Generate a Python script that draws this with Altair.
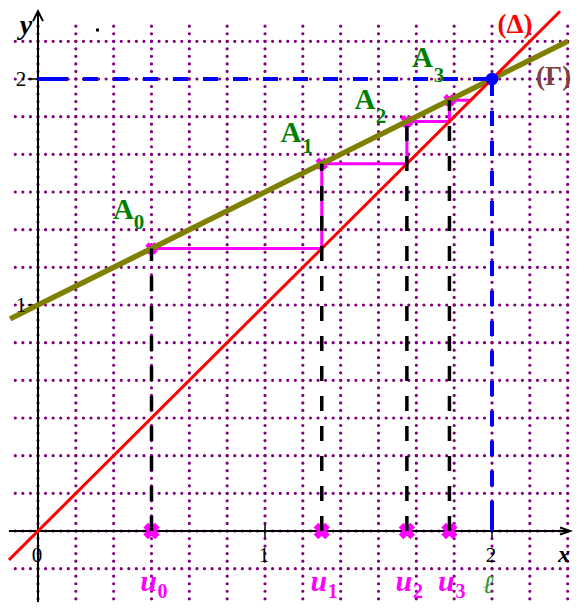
import altair as alt
import pandas as pd

# ---- values ----
u_vals = [0.5, 1.25, 1.625, 1.8125]            # u0..u3 on the x axis
a_vals = [1.25, 1.625, 1.8125, 1.90625]        # ordinates of A0..A3 on (Γ)
sub_labels = ["0", "1", "2", "3"]
limit_val = 2.0
gamma_x = [-0.123, 2.335]
gamma_y = [0.9385, 2.1675]
delta_x = [-0.128, 2.30]
delta_y = [-0.128, 2.30]
cobweb_x = [0.5, 1.25, 1.25, 1.625, 1.625, 1.8125, 1.8125, 1.90625]
cobweb_y = [1.25, 1.25, 1.625, 1.625, 1.8125, 1.8125, 1.90625, 1.90625]
grid_v = [k / 6 for k in range(0, 15)]
grid_h = [k / 6 for k in range(-2, 14)]
x_ticks = [0, 1, 2]
y_ticks = [1, 2]

W, H = 565, 594
xs = alt.Scale(domain=[-30 / 227, -30 / 227 + W / 227], nice=False, zero=False)
ys = alt.Scale(domain=[523 / 226 - H / 226, 523 / 226], nice=False, zero=False)


def X(f):
    return alt.X(f, type="quantitative", scale=xs, axis=None)


def Y(f):
    return alt.Y(f, type="quantitative", scale=ys, axis=None)


PURPLE = "#800080"
MAG = "#ff00ff"
GREEN = "#008000"
SERIF = "Liberation Serif"

layers = []

# grid (dotted)
gv = pd.DataFrame({"x": grid_v, "y0": -2 / 6, "y1": 13 / 6 + 0.1})
layers.append(alt.Chart(gv).mark_rule(color=PURPLE, strokeWidth=3.2, strokeCap="round",
                                      strokeDash=[0.001, 7.533]).encode(
    x=X("x"), y=Y("y0"), y2="y1"))
gh = pd.DataFrame({"y": grid_h, "x0": -0.1, "x1": 14 / 6 + 1 / 30})
layers.append(alt.Chart(gh).mark_rule(color=PURPLE, strokeWidth=3.2, strokeCap="round",
                                      strokeDash=[0.001, 7.567]).encode(
    y=Y("y"), x=X("x0"), x2="x1"))

# axes
axx = pd.DataFrame({"x0": [-0.128], "x1": [2.344], "y": [0]})
layers.append(alt.Chart(axx).mark_rule(color="black", strokeWidth=2).encode(
    x=X("x0"), x2="x1", y=Y("y")))
axy = pd.DataFrame({"x": [0], "y0": [-0.36], "y1": [2.30]})
layers.append(alt.Chart(axy).mark_rule(color="black", strokeWidth=2).encode(
    x=X("x"), y=Y("y0"), y2="y1"))
arr = pd.DataFrame({
    "g": ["a", "a", "a", "b", "b", "b"],
    "o": [0, 1, 2, 0, 1, 2],
    "x": [2.300, 2.344, 2.300, -0.022, 0.0, 0.022],
    "y": [0.0155, 0.0, -0.0155, 2.256, 2.30, 2.256],
})
layers.append(alt.Chart(arr).mark_line(color="black", strokeWidth=2).encode(
    x=X("x"), y=Y("y"), detail="g:N", order="o:Q"))
tx = pd.DataFrame({"x": [1, 2], "y0": -0.03, "y1": 0.03})
layers.append(alt.Chart(tx).mark_rule(color="black", strokeWidth=1.5).encode(
    x=X("x"), y=Y("y0"), y2="y1"))
ty = pd.DataFrame({"y": y_ticks, "x0": -0.045, "x1": 0.0})
layers.append(alt.Chart(ty).mark_rule(color="black", strokeWidth=1.5).encode(
    y=Y("y"), x=X("x0"), x2="x1"))

# cobweb (magenta)
cw = pd.DataFrame({"x": cobweb_x, "y": cobweb_y, "o": list(range(len(cobweb_x)))})
layers.append(alt.Chart(cw).mark_line(color=MAG, strokeWidth=3).encode(
    x=X("x"), y=Y("y"), order="o:Q"))

pts = pd.DataFrame({"u": u_vals, "a": a_vals, "zero": 0.0, "s": sub_labels})
layers.append(alt.Chart(pts).mark_point(shape="cross", angle=45, filled=True, size=160,
                                        color=MAG, opacity=1).encode(x=X("u"), y=Y("a")))

# (Γ) and (Δ)
gdf = pd.DataFrame({"x": gamma_x, "y": gamma_y})
layers.append(alt.Chart(gdf).mark_line(color="#808000", strokeWidth=5.5).encode(
    x=X("x"), y=Y("y")))
ddf = pd.DataFrame({"x": delta_x, "y": delta_y})
layers.append(alt.Chart(ddf).mark_line(color="#ff0000", strokeWidth=3).encode(
    x=X("x"), y=Y("y")))

# crosses on the x axis
layers.append(alt.Chart(pts).mark_point(shape="cross", angle=45, filled=True, size=270,
                                        color=MAG, opacity=1).encode(x=X("u"), y=Y("zero")))

# black dashed verticals
layers.append(alt.Chart(pts).mark_rule(color="black", strokeWidth=3.5, strokeDash=[15, 15]).encode(
    x=X("u"), y=Y("zero"), y2="a"))

# blue dashed lines to the limit
blue_dash = [30, 15] + [15, 15] * 16
bh = pd.DataFrame({"x0": [0.0], "x1": [limit_val], "y": [limit_val]})
layers.append(alt.Chart(bh).mark_rule(color="#0000ff", strokeWidth=4, strokeDash=blue_dash).encode(
    x=X("x0"), x2="x1", y=Y("y")))
bv = pd.DataFrame({"x": [limit_val], "y0": [0.0], "y1": [limit_val]})
layers.append(alt.Chart(bv).mark_rule(color="#0000ff", strokeWidth=4, strokeDash=blue_dash).encode(
    x=X("x"), y=Y("y0"), y2="y1"))
bp = pd.DataFrame({"x": [limit_val], "y": [limit_val]})
layers.append(alt.Chart(bp).mark_point(shape="circle", filled=True, size=160, color="#0000ff",
                                       opacity=1).encode(x=X("x"), y=Y("y")))

# ---- texts ----
xl = pd.DataFrame({"x": x_ticks, "t": [str(v) for v in x_ticks], "y": 0.0})
layers.append(alt.Chart(xl).mark_text(font=SERIF, fontSize=21, align="center", baseline="alphabetic",
                                      dy=31, dx=-1, color="black").encode(
    x=X("x"), y=Y("y"), text="t:N"))
yl = pd.DataFrame({"y": y_ticks, "t": [str(v) for v in y_ticks], "x": 0.0})
layers.append(alt.Chart(yl).mark_text(font=SERIF, fontSize=21, align="center", baseline="alphabetic",
                                      dx=-17, dy=7, color="black").encode(
    x=X("x"), y=Y("y"), text="t:N"))

a_main = pd.DataFrame({"x": [0.3767, 1.1145, 1.4405, 1.6938],
                       "y": [1.3805, 1.7212, 1.8673, 2.0531], "t": ["A"] * 4})
layers.append(alt.Chart(a_main).mark_text(font=SERIF, fontSize=29, fontWeight="bold", color=GREEN,
                                          align="center", baseline="alphabetic").encode(
    x=X("x"), y=Y("y"), text="t:N"))
a_sub = pd.DataFrame({"x": [0.4449, 1.1872, 1.5110, 1.7665],
                      "y": [1.3363, 1.6726, 1.8053, 1.9867], "t": sub_labels})
layers.append(alt.Chart(a_sub).mark_text(font=SERIF, fontSize=21, fontWeight="bold", color=GREEN,
                                         align="center", baseline="alphabetic").encode(
    x=X("x"), y=Y("y"), text="t:N"))

# u labels (kept inside the page's bottom edge)
layers.append(alt.Chart(pts).transform_calculate(t="'u'", yy="-0.2655").mark_text(
    font=SERIF, fontSize=30, fontWeight="bold", fontStyle="italic", color=MAG,
    align="center", baseline="alphabetic", dx=-3).encode(x=X("u"), y=Y("yy:Q"), text="t:N"))
layers.append(alt.Chart(pts).transform_calculate(yy="-0.2965").mark_text(
    font=SERIF, fontSize=20, fontWeight="bold", color=MAG,
    align="center", baseline="alphabetic", dx=11).encode(x=X("u"), y=Y("yy:Q"), text="s:N"))

ann = pd.DataFrame({
    "x": [2.1013, 2.1938, 2.0, 2.317, -0.0529],
    "y": [2.2035, 1.9735, -0.2745, -0.137, 2.199],
    "t": ["(Δ)", "(Γ)", "ℓ", "x", "y"],
})
styles = [
    dict(fontSize=27, fontWeight="bold", color="#ff0000", align="center"),
    dict(fontSize=27, fontWeight="bold", color="#7f3f3f", align="left"),
    dict(fontSize=26, fontStyle="italic", color="#339933", align="center", dx=-4),
    dict(fontSize=24, fontWeight="bold", fontStyle="italic", color="black", align="center"),
    dict(fontSize=28, fontWeight="bold", fontStyle="italic", color="black", align="center"),
]
for i, st in enumerate(styles):
    layers.append(alt.Chart(ann.iloc[[i]]).mark_text(font=SERIF, baseline="alphabetic", **st).encode(
        x=X("x"), y=Y("y"), text="t:N"))

dot = pd.DataFrame({"x": [0.262], "y": [2.2168]})
layers.append(alt.Chart(dot).mark_point(shape="square", filled=True, size=9, color="black",
                                        opacity=1).encode(x=X("x"), y=Y("y")))

chart = alt.layer(*layers).properties(width=W, height=H, padding=0, autosize="none") \
    .configure_view(stroke=None)

chart.save("out.html", embed_options={"renderer": "svg", "actions": False})
